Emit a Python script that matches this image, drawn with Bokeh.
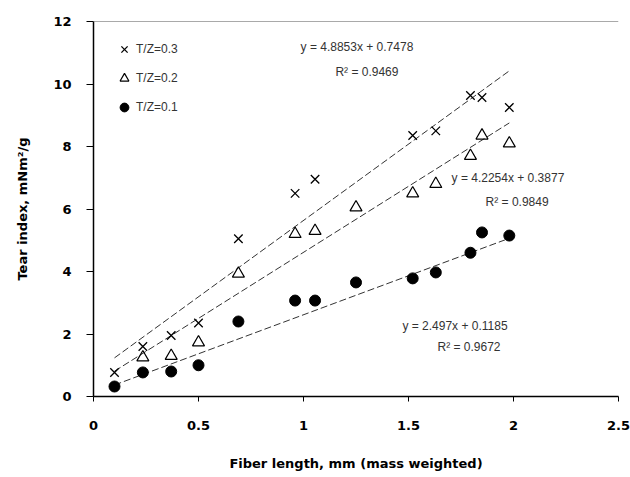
from bokeh.plotting import figure
from bokeh.models import (Legend, LegendItem, Label, Span, FixedTicker, Range1d)
from bokeh.embed import file_html
from bokeh.resources import INLINE

# ---- data ----
x_tz03 = [0.1, 0.235, 0.37, 0.5, 0.69, 0.96, 1.055, 1.52, 1.63, 1.795, 1.85, 1.98]
y_tz03 = [0.77, 1.6, 1.95, 2.35, 5.05, 6.5, 6.95, 8.35, 8.5, 9.63, 9.57, 9.25]

x_tz02 = [0.235, 0.37, 0.5, 0.69, 0.96, 1.055, 1.25, 1.52, 1.63, 1.795, 1.85, 1.98]
y_tz02 = [1.25, 1.3, 1.73, 3.93, 5.2, 5.3, 6.05, 6.5, 6.8, 7.7, 8.35, 8.1]

x_tz01 = [0.1, 0.235, 0.37, 0.5, 0.69, 0.96, 1.055, 1.25, 1.52, 1.63, 1.795, 1.85, 1.98]
y_tz01 = [0.32, 0.77, 0.8, 1.0, 2.4, 3.07, 3.07, 3.65, 3.78, 3.97, 4.6, 5.25, 5.15]

series_names = ["T/Z=0.3", "T/Z=0.2", "T/Z=0.1"]
slopes = [4.8853, 4.2254, 2.497]
intercepts = [0.7478, 0.3877, 0.1185]
r_squared = [0.9469, 0.9849, 0.9672]
eq_texts = ["y = 4.8853x + 0.7478", "y = 4.2254x + 0.3877", "y = 2.497x + 0.1185"]
r2_texts = ["R\u00b2 = 0.9469", "R\u00b2 = 0.9849", "R\u00b2 = 0.9672"]

x_ticks = [0, 0.5, 1, 1.5, 2, 2.5]
y_ticks = [0, 2, 4, 6, 8, 10, 12]

FONT = "DejaVu Sans"
TXT_FONT = "Liberation Sans"

p = figure(width=630, height=477, output_backend="svg", toolbar_location=None,
           x_range=Range1d(0, 2.5), y_range=Range1d(0, 12),
           min_border_left=93, min_border_right=12, min_border_top=21,
           min_border_bottom=81)
p.outline_line_color = None
p.xgrid.visible = False
p.ygrid.visible = False
p.background_fill_color = "white"

# top frame line
p.add_layout(Span(location=p.y_range.end, dimension="width",
                  line_color="#555555", line_width=1))

# trend lines
fit_x = [min(x_tz01), max(x_tz01)]
for m, b in zip(slopes, intercepts):
    fy = [m * fit_x[0] + b, m * fit_x[1] + b]
    p.line(fit_x, fy, line_color="#333333", line_width=1, line_dash="7 3")

r3 = p.scatter(x_tz03, y_tz03, marker="x", size=12, line_color="black",
               line_width=1.3)
r2 = p.scatter(x_tz02, y_tz02, marker="triangle", size=12, fill_color=None,
               line_color="black", line_width=1.2)
r1 = p.scatter(x_tz01, y_tz01, marker="circle", size=11, fill_color="black",
               line_color="black")

legend = Legend(items=[LegendItem(label=series_names[0], renderers=[r3]),
                       LegendItem(label=series_names[1], renderers=[r2]),
                       LegendItem(label=series_names[2], renderers=[r1])],
                location=(20, 278), padding=0, spacing=7,
                glyph_width=22, glyph_height=22, label_height=22,
                label_standoff=1, border_line_color=None,
                background_fill_alpha=0,
                label_text_font=TXT_FONT, label_text_font_size="12px",
                label_text_color="#333333")
p.add_layout(legend)

# equation annotations
eq_pos = [(0.986, 11.17), (1.705, 6.98), (1.471, 2.27)]
r2_pos = [(1.152, 10.4), (1.867, 6.21), (1.638, 1.57)]
for (ex, ey), t in zip(eq_pos, eq_texts):
    p.add_layout(Label(x=ex, y=ey, text=t, text_font=TXT_FONT,
                       text_font_size="12px", text_color="#333333",
                       text_baseline="middle", text_align="left"))
for (rx, ry), t in zip(r2_pos, r2_texts):
    p.add_layout(Label(x=rx, y=ry, text=t, text_font=TXT_FONT,
                       text_font_size="12px", text_color="#333333",
                       text_baseline="middle", text_align="left"))

# axes
p.xaxis.ticker = FixedTicker(ticks=x_ticks)
p.yaxis.ticker = FixedTicker(ticks=y_ticks)
p.xaxis.minor_tick_line_color = None
p.yaxis.minor_tick_line_color = None
for ax in (p.xaxis[0], p.yaxis[0]):
    ax.axis_line_color = "black"
    ax.axis_line_width = 1.5
    ax.major_tick_line_color = "black"
    ax.major_tick_in = 0
    ax.major_label_text_font = FONT
    ax.major_label_text_font_style = "bold"
    ax.major_label_text_font_size = "13px"
    ax.major_label_text_color = "black"
    ax.axis_label_text_font = FONT
    ax.axis_label_text_font_style = "bold"
    ax.axis_label_text_font_size = "13px"
    ax.axis_label_text_color = "black"

p.xaxis.major_tick_out = 5
p.xaxis.major_label_standoff = 19
p.xaxis.axis_label = "Fiber length, mm (mass weighted)"
p.xaxis.axis_label_standoff = 23

p.yaxis.major_tick_out = 7
p.yaxis.major_label_standoff = 15
p.yaxis.axis_label = "Tear index, mNm\u00b2/g"
p.yaxis.axis_label_standoff = 20

open("out.html", "w").write(file_html(p, INLINE))
